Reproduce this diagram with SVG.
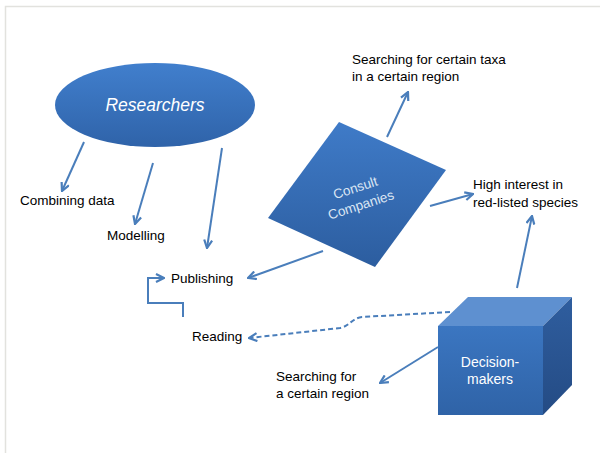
<svg xmlns="http://www.w3.org/2000/svg" width="600" height="453" viewBox="0 0 600 453">
<style>
.lbl{font-family:"Liberation Sans",Arial,sans-serif;font-size:13.5px;fill:#000}
.wl{font-family:"Liberation Sans",Arial,sans-serif;fill:#fff}
.con{fill:none;stroke:#4a7ebb;stroke-width:2}
</style>
<defs>
<marker id="ah" viewBox="0 0 10 10" refX="9" refY="5" markerWidth="5" markerHeight="5" orient="auto" markerUnits="strokeWidth">
<path d="M1,1 L9,5 L1,9" fill="none" stroke="#4a7ebb" stroke-width="2.2"/>
</marker>
<linearGradient id="gE" x1="0" y1="0" x2="0" y2="1">
<stop offset="0" stop-color="#417fcd"/><stop offset="1" stop-color="#2f63a9"/>
</linearGradient>
<linearGradient id="gD" x1="0" y1="0" x2="0" y2="1">
<stop offset="0" stop-color="#3f7bc8"/><stop offset="1" stop-color="#2c5d9f"/>
</linearGradient>
<linearGradient id="gF" x1="0" y1="0" x2="0" y2="1">
<stop offset="0" stop-color="#3b76c1"/><stop offset="1" stop-color="#2f63a7"/>
</linearGradient>
<linearGradient id="gR" x1="0" y1="0" x2="0" y2="1">
<stop offset="0" stop-color="#2f5e9f"/><stop offset="1" stop-color="#244b84"/>
</linearGradient>
</defs>
<rect width="600" height="453" fill="#fff"/>
<path d="M5.5,453 V6.5 H600" fill="none" stroke="#e2e2de" stroke-width="1.5"/>

<g id="researchers">
<ellipse cx="155" cy="105" rx="100" ry="42" fill="url(#gE)"/>
<text class="wl" x="155" y="111" text-anchor="middle" font-size="17.5" font-style="italic">Researchers</text>
</g>

<g id="consult">
<polygon points="339,122 446,170 375,267 268,218" fill="url(#gD)"/>
<g transform="translate(358,196) rotate(-18)" fill="#dbe6f4">
<text class="wl" x="0" y="-4" text-anchor="middle" font-size="13.5" style="fill:#dbe6f4">Consult</text>
<text class="wl" x="0" y="14" text-anchor="middle" font-size="13.5" style="fill:#dbe6f4">Companies</text>
</g>
</g>

<g id="decision-makers">
<polygon points="438,326 468,297 572,297 543,326" fill="#5e90d0"/>
<polygon points="543,326 572,297 572,385 543,415" fill="url(#gR)"/>
<rect x="438" y="326" width="105" height="89" fill="url(#gF)"/>
<text class="wl" x="490" y="367" text-anchor="middle" font-size="14">Decision-</text>
<text class="wl" x="490" y="384" text-anchor="middle" font-size="14">makers</text>
</g>

<g id="labels">
<text id="combining" class="lbl" x="20" y="205">Combining data</text>
<text id="modelling" class="lbl" x="107" y="240">Modelling</text>
<text id="publishing" class="lbl" x="171" y="283">Publishing</text>
<text id="reading" class="lbl" x="192" y="341">Reading</text>
<text id="search-region" class="lbl" x="276" y="381">Searching for</text>
<text class="lbl" x="276" y="398">a certain region</text>
<text id="search-taxa" class="lbl" x="352" y="64">Searching for certain taxa</text>
<text class="lbl" x="352" y="81">in a certain region</text>
<text id="high-interest" class="lbl" x="473" y="189">High interest in</text>
<text class="lbl" x="473" y="207">red-listed species</text>
</g>

<g id="connectors">
<line class="con" x1="84" y1="142" x2="62" y2="191" marker-end="url(#ah)"/>
<line class="con" x1="153" y1="163" x2="135" y2="224" marker-end="url(#ah)"/>
<line class="con" x1="222" y1="148" x2="207" y2="248" marker-end="url(#ah)"/>
<line class="con" x1="387" y1="137" x2="408" y2="92" marker-end="url(#ah)"/>
<line class="con" x1="430" y1="206" x2="473" y2="194" marker-end="url(#ah)"/>
<line class="con" x1="323" y1="251" x2="248" y2="278" marker-end="url(#ah)"/>
<line class="con" x1="517" y1="288" x2="532" y2="216" marker-end="url(#ah)"/>
<line class="con" x1="438" y1="347" x2="380" y2="383" marker-end="url(#ah)"/>
<path class="con" d="M183,317 V303 H148 V278 H164" marker-end="url(#ah)"/>
<path class="con" d="M450,312 L362,317 C352,318 350,326 340,328 L249,338" stroke-dasharray="5,3" marker-end="url(#ah)"/>
</g>
</svg>
